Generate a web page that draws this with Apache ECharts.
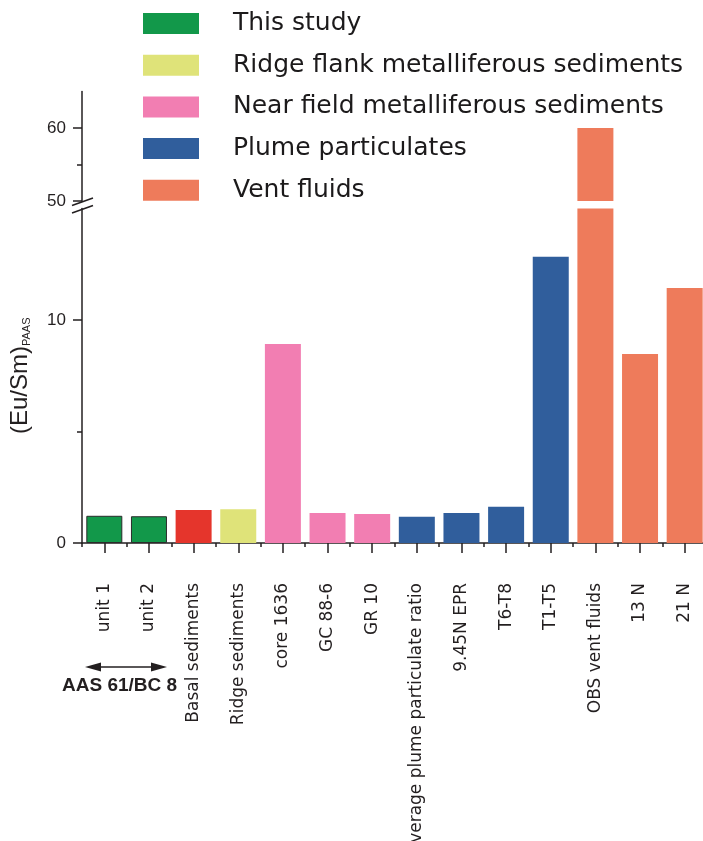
<!DOCTYPE html>
<html>
<head>
<meta charset="utf-8">
<script src="https://cdn.jsdelivr.net/npm/echarts@6/dist/echarts.min.js"></script>
<style>
  html, body { margin: 0; padding: 0; background: #ffffff; }
  #chart { width: 703px; height: 841px; }
</style>
</head>
<body>
<div id="chart"></div>
<script>
// Sample names along the x axis
const categories = [
  'unit 1', 'unit 2', 'Basal sediments', 'Ridge sediments', 'core 1636', 'GC 88-6', 'GR 10',
  'Average plume particulate ratio', '9.45N EPR', 'T6-T8', 'T1-T5', 'OBS vent fluids', '13 N', '21 N'
];
// Group each sample belongs to
const sampleGroups = [
  'This study', 'This study', 'Basal sediments', 'Ridge flank metalliferous sediments',
  'Near field metalliferous sediments', 'Near field metalliferous sediments', 'Near field metalliferous sediments',
  'Plume particulates', 'Plume particulates', 'Plume particulates', 'Plume particulates',
  'Vent fluids', 'Vent fluids', 'Vent fluids'
];
// PAAS-normalised Eu/Sm ratios
const euSmRatios = [1.22, 1.20, 1.48, 1.51, 8.92, 1.35, 1.30, 1.18, 1.35, 1.63, 12.84, 60, 8.48, 11.43];

// Groups shown in the key
const legendGroups = [
  'This study', 'Ridge flank metalliferous sediments', 'Near field metalliferous sediments',
  'Plume particulates', 'Vent fluids'
];
const allGroups = ['This study', 'Basal sediments', 'Ridge flank metalliferous sediments',
  'Near field metalliferous sediments', 'Plume particulates', 'Vent fluids'];

// Broken value axis: lower and upper ranges and their ticks
const lowerRange = [0, 15];
const upperRange = [50, 65];
const lowerMajorTicks = [0, 10];
const lowerMinorTicks = [5];
const upperMajorTicks = [50, 60];
const upperMinorTicks = [55];

const groupColors = {
  'This study': '#12984a',
  'Basal sediments': '#e5352c',
  'Ridge flank metalliferous sediments': '#dfe379',
  'Near field metalliferous sediments': '#f27eb2',
  'Plume particulates': '#305e9c',
  'Vent fluids': '#ee7b5b'
};

const ink = '#231f20';
const chart = echarts.init(document.getElementById('chart'), null, { renderer: 'canvas' });

const gridLeft = 82, gridWidth = 625;
const lowerTop = 208.5, lowerHeight = 334.5;
const upperTop = 91.5, upperHeight = 109.5;

// values of one group; the upper panel only receives values above the break
function groupData(g, panelMin) {
  return euSmRatios.map((v, i) => (sampleGroups[i] === g && v > panelMin ? v : '-'));
}

const series = [];
allGroups.forEach(g => {
  const style = { color: groupColors[g] };
  if (g === 'This study') { style.borderColor = '#2b2b2b'; style.borderWidth = 1; }
  series.push({
    name: g, type: 'bar', xAxisIndex: 0, yAxisIndex: 0,
    barWidth: 36, barGap: '-100%', clip: true,
    itemStyle: style, data: groupData(g, lowerRange[0]), z: 3
  });
  const upper = groupData(g, upperRange[0]);
  if (upper.some(v => v !== '-')) {
    series.push({
      name: g, type: 'bar', xAxisIndex: 2, yAxisIndex: 2,
      barWidth: 36, barGap: '-100%', clip: true,
      itemStyle: style, data: upper, z: 3
    });
  }
});

const tickLine = { color: ink, width: 1.5 };

const option = {
  backgroundColor: '#ffffff',
  animation: false,
  textStyle: { fontFamily: 'Liberation Sans' },
  legend: {
    data: legendGroups,
    orient: 'vertical',
    left: 143, top: 11, padding: 0,
    itemWidth: 56, itemHeight: 21, itemGap: 16.7,
    icon: 'rect',
    selectedMode: false,
    itemStyle: { borderWidth: 0 },
    textStyle: {
      fontFamily: 'DejaVu Sans', fontSize: 25, color: '#1c1a1b',
      padding: [0, 0, 0, 29]
    }
  },
  grid: [
    { left: gridLeft, top: lowerTop, width: gridWidth, height: lowerHeight, outerBoundsMode: 'none', containLabel: false },
    { left: gridLeft, top: upperTop, width: gridWidth, height: upperHeight, outerBoundsMode: 'none', containLabel: false }
  ],
  xAxis: [
    {
      gridIndex: 0, type: 'category', data: categories, position: 'bottom',
      axisLine: { show: true, onZero: false, lineStyle: tickLine },
      axisTick: { show: true, interval: 0, alignWithLabel: true, length: 10, lineStyle: tickLine },
      axisLabel: {
        interval: 0, rotate: 90, margin: 40,
        fontFamily: 'DejaVu Sans', fontSize: 17, color: ink
      },
      splitLine: { show: false }
    },
    {
      // short ticks on the category boundaries
      gridIndex: 0, type: 'category', data: categories, position: 'bottom',
      axisLine: { show: false, onZero: false },
      axisTick: { show: true, interval: 0, alignWithLabel: false, length: 4, lineStyle: tickLine },
      axisLabel: { show: false },
      splitLine: { show: false }
    },
    {
      gridIndex: 1, type: 'category', data: categories, position: 'bottom',
      axisLine: { show: false }, axisTick: { show: false }, axisLabel: { show: false },
      splitLine: { show: false }
    }
  ],
  yAxis: [
    {
      gridIndex: 0, type: 'value', position: 'left', min: lowerRange[0], max: lowerRange[1],
      axisLine: { show: true, lineStyle: tickLine },
      axisTick: { show: true, customValues: lowerMajorTicks, length: 9, lineStyle: tickLine },
      axisLabel: { customValues: lowerMajorTicks, fontSize: 17, color: ink, margin: 16 },
      splitLine: { show: false },
      name: '{m|(Eu/Sm)}{s|PAAS}',
      nameLocation: 'middle', nameRotate: 90, nameGap: 50,
      nameTextStyle: {
        rich: {
          m: { fontSize: 24, color: ink, lineHeight: 28, verticalAlign: 'bottom' },
          s: { fontSize: 11, color: ink, lineHeight: 20, verticalAlign: 'bottom' }
        }
      }
    },
    {
      gridIndex: 0, type: 'value', position: 'left', min: lowerRange[0], max: lowerRange[1],
      axisLine: { show: false },
      axisTick: { show: true, customValues: lowerMinorTicks, length: 5, lineStyle: tickLine },
      axisLabel: { show: false }, splitLine: { show: false }
    },
    {
      gridIndex: 1, type: 'value', position: 'left', min: upperRange[0], max: upperRange[1],
      axisLine: { show: true, lineStyle: tickLine },
      axisTick: { show: true, customValues: upperMajorTicks, length: 9, lineStyle: tickLine },
      axisLabel: { customValues: upperMajorTicks, fontSize: 17, color: ink, margin: 16 },
      splitLine: { show: false }
    },
    {
      gridIndex: 1, type: 'value', position: 'left', min: upperRange[0], max: upperRange[1],
      axisLine: { show: false },
      axisTick: { show: true, customValues: upperMinorTicks, length: 5, lineStyle: tickLine },
      axisLabel: { show: false }, splitLine: { show: false }
    }
  ],
  series: series,
  graphic: [
    // break marks on the value axis
    { type: 'line', shape: { x1: 72, y1: 205.5, x2: 93, y2: 198 }, style: { stroke: ink, lineWidth: 1.5 }, z: 10 },
    { type: 'line', shape: { x1: 72, y1: 213, x2: 93, y2: 205.5 }, style: { stroke: ink, lineWidth: 1.5 }, z: 10 },
    // double-headed arrow spanning the core samples
    { type: 'line', shape: { x1: 95, y1: 667, x2: 157, y2: 667 }, style: { stroke: ink, lineWidth: 1.6 }, z: 10 },
    { type: 'polygon', shape: { points: [[85, 667], [101, 662.5], [101, 671.5]] }, style: { fill: ink }, z: 10 },
    { type: 'polygon', shape: { points: [[167, 667], [151, 662.5], [151, 671.5]] }, style: { fill: ink }, z: 10 },
    {
      type: 'text', left: 62, top: 676, z: 10,
      style: { text: 'AAS 61/BC 8', fontFamily: 'Liberation Sans', fontWeight: 'bold', fontSize: 19, fill: ink }
    }
  ]
};

chart.setOption(option);
</script>
</body>
</html>
